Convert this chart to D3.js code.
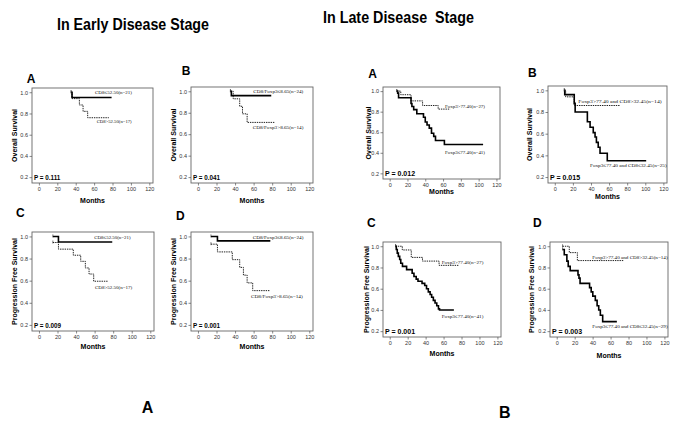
<!DOCTYPE html>
<html>
<head>
<meta charset="utf-8">
<script src="https://cdn.jsdelivr.net/npm/d3@7"></script>
<style>
  body { margin: 0; background: #fff; }
  svg { display: block; }
</style>
</head>
<body>
<svg id="chart" width="685" height="432"></svg>
<script>
// survival curves, [months, proportion surviving]
// early stage: A = OS by CD8, B = OS by CD8/Foxp3, C = PFS by CD8, D = PFS by CD8/Foxp3
const earlyOS_cd8Low = [[35, 1.0], [36, 0.95], [79, 0.95]];
const earlyOS_cd8High = [[35, 1.0], [36, 0.94], [44, 0.88], [48, 0.82], [53, 0.76], [76, 0.76]];
const earlyOS_ratioLow = [[35, 1.0], [36, 0.96], [79, 0.96]];
const earlyOS_ratioHigh = [[35, 1.0], [38, 0.93], [45, 0.86], [48, 0.79], [53, 0.71], [83, 0.71]];
const earlyPFS_cd8Low = [[15, 1.0], [21, 0.95], [79, 0.95]];
const earlyPFS_cd8High = [[15, 0.945], [21, 0.885], [37, 0.83], [45, 0.775], [50, 0.715], [54, 0.66], [59, 0.595], [74, 0.595]];
const earlyPFS_ratioLow = [[14, 1.0], [21, 0.96], [78, 0.96]];
const earlyPFS_ratioHigh = [[14, 0.93], [21, 0.86], [37, 0.79], [45, 0.72], [49, 0.65], [53, 0.58], [59, 0.51], [77, 0.51]];

// late stage: A = OS by Foxp3, B = OS by Foxp3 & CD8, C = PFS by Foxp3, D = PFS by Foxp3 & CD8
const lateOS_foxLow = [[8, 1.0], [9, 0.98], [10, 0.935], [24, 0.88], [25, 0.85], [27, 0.82], [30.5, 0.78], [38, 0.745],
  [40, 0.70], [42, 0.67], [44.5, 0.64], [47, 0.59], [49.5, 0.56], [51.5, 0.52], [61.5, 0.48], [105, 0.48]];
const lateOS_foxHigh = [[8, 1.0], [12.5, 0.965], [24, 0.905], [37, 0.86], [54.5, 0.825], [68, 0.825]];
const lateOS_comboLow = [[10.5, 1.0], [11, 0.96], [21.5, 0.88], [22.5, 0.80], [36, 0.71], [39, 0.66], [42.5, 0.61],
  [44.5, 0.57], [46, 0.52], [48, 0.475], [50, 0.42], [58, 0.35], [101, 0.35]];
const lateOS_comboHigh = [[10.5, 1.0], [12, 0.94], [21.5, 0.86], [72, 0.86]];
const latePFS_foxLow = [[6.5, 1.0], [7.3, 0.97], [8.4, 0.935], [9.6, 0.905], [11.1, 0.875], [12.3, 0.84], [14.2, 0.81],
  [18.8, 0.78], [25, 0.745], [27, 0.715], [29.5, 0.69], [31.5, 0.67], [36, 0.65], [39, 0.63], [41, 0.60], [43, 0.57],
  [45, 0.545], [46.7, 0.52], [48.6, 0.49], [50.5, 0.465], [52.4, 0.44], [54.3, 0.41], [55.5, 0.40], [71.5, 0.40]];
const latePFS_foxHigh = [[6.5, 1.0], [14, 0.965], [24, 0.895], [36.5, 0.86], [55, 0.82], [76.5, 0.82]];
const latePFS_comboLow = [[6.5, 0.97], [8.4, 0.92], [11.3, 0.86], [12.8, 0.81], [15, 0.77], [23.7, 0.73], [24.8, 0.70],
  [26, 0.65], [36.6, 0.61], [38.4, 0.57], [40.2, 0.53], [43, 0.49], [45, 0.44], [46.8, 0.40], [48.6, 0.35], [51.2, 0.29], [67, 0.29]];
const latePFS_comboHigh = [[6.5, 1.0], [14, 0.94], [23, 0.865], [75, 0.865]];

const solidCurves = [earlyOS_cd8Low, earlyOS_ratioLow, earlyPFS_cd8Low, earlyPFS_ratioLow,
  lateOS_foxLow, lateOS_comboLow, latePFS_foxLow, latePFS_comboLow];
const dashedCurves = [earlyOS_cd8High, earlyOS_ratioHigh, earlyPFS_cd8High, earlyPFS_ratioHigh,
  lateOS_foxHigh, lateOS_comboHigh, latePFS_foxHigh, latePFS_comboHigh];

// texts
const panelLetters = ["A", "B", "C", "D", "A", "B", "C", "D"];
const yTitles = ["Overall Survival", "Overall Survival", "Progression Free Survival", "Progression Free Survival",
  "Overall Survival", "Overall Survival", "Progression Free Survival", "Progression Free Survival"];
const pValues = ["P = 0.111", "P = 0.041", "P = 0.009", "P = 0.001", "P = 0.012", "P = 0.015", "P = 0.001", "P = 0.003"];
const curveLabels = [
  ["CD8≤52.50(n=21)", "CD8>52.50(n=17)"],
  ["CD8/Foxp3≤8.65(n=24)", "CD8/Foxp3>8.65(n=14)"],
  ["CD8≤52.50(n=21)", "CD8>52.50(n=17)"],
  ["CD8/Foxp3≤8.65(n=24)", "CD8/Foxp3>8.65(n=14)"],
  ["Foxp3>77.40(n=27)", "Foxp3≤77.40(n=41)"],
  ["Foxp3>77.40 and CD8>32.45(n=14)", "Foxp3≤77.40 and CD8≤32.45(n=25)"],
  ["Foxp3>77.40(n=27)", "Foxp3≤77.40(n=41)"],
  ["Foxp3>77.40 and CD8>32.45(n=14)", "Foxp3≤77.40 and CD8≤32.45(n=29)"]
];
const stageTitles = ["In Early Disease Stage", "In Late Disease  Stage"];
const figureLetters = ["A", "B"];
const xTicks = [0, 20, 40, 60, 80, 100, 120];
const yTicks = [0.2, 0.4, 0.6, 0.8, 1.0];

// layout of the eight small plots (frame box, where "Months" sits, where y title sits)
const frames = [
  { x: 32, y: 88, w: 121, h: 95, monthsY: 202.5, yTitleX: 15, letter: [26.7, 82.7] },
  { x: 191, y: 87, w: 122, h: 96, monthsY: 203, yTitleX: 173.5, letter: [181.7, 75] },
  { x: 32, y: 232, w: 122, h: 99, monthsY: 349, yTitleX: 15, letter: [16, 216.7] },
  { x: 191, y: 232, w: 122, h: 99, monthsY: 349, yTitleX: 174, letter: [176, 220] },
  { x: 383, y: 87, w: 117, h: 92, monthsY: 194, yTitleX: 369, letter: [368.3, 78.3] },
  { x: 548, y: 86, w: 119, h: 97, monthsY: 199, yTitleX: 530, letter: [528, 77.3] },
  { x: 383, y: 242, w: 118, h: 95, monthsY: 355.5, yTitleX: 367, letter: [367, 226.7] },
  { x: 550, y: 242, w: 118, h: 95, monthsY: 358, yTitleX: 532, letter: [533, 226.7] }
];
// curve label boxes: left x, middle y, width
const labelBoxes = [
  [[95, 92, 37], [96.7, 121.7, 35]],
  [[253.3, 91, 50], [252.7, 127.7, 50.7]],
  [[94.3, 237.7, 36.3], [95, 287.3, 37.3]],
  [[252.7, 237.3, 50.7], [251, 296.7, 51.7]],
  [[445, 106, 40], [445, 152.3, 40]],
  [[578.3, 101, 83.3], [590, 165, 76.7]],
  [[441.7, 262.5, 41.7], [441.7, 316.7, 41.7]],
  [[592.3, 257, 75.3], [592.3, 326.7, 75.3]]
];

const svg = d3.select("#chart");
const sans = "'Liberation Sans', Arial, Helvetica, sans-serif";

// big titles
svg.append("text").attr("x", 57).attr("y", 30)
  .attr("font-family", "'Liberation Sans Narrow', 'Arial Narrow', " + sans)
  .attr("font-weight", "bold").attr("font-size", 16.5)
  .attr("textLength", 152).attr("lengthAdjust", "spacingAndGlyphs")
  .text(stageTitles[0]);
svg.append("text").attr("x", 323).attr("y", 22.5)
  .attr("font-family", "'Liberation Sans Narrow', 'Arial Narrow', " + sans)
  .attr("font-weight", "bold").attr("font-size", 16.5)
  .attr("textLength", 151).attr("lengthAdjust", "spacingAndGlyphs")
  .style("white-space", "pre")
  .text(stageTitles[1]);

svg.append("text").attr("x", 141.7).attr("y", 413.3).attr("font-family", sans)
  .attr("font-weight", "bold").attr("font-size", 16).text(figureLetters[0]);
svg.append("text").attr("x", 499).attr("y", 418.3).attr("font-family", sans)
  .attr("font-weight", "bold").attr("font-size", 16).text(figureLetters[1]);

frames.forEach((f, i) => {
  const x = d3.scaleLinear().domain([-7.5, 124]).range([f.x, f.x + f.w]);
  const y = d3.scaleLinear().domain([0.145, 1.04]).range([f.y + f.h, f.y]);
  const g = svg.append("g");

  // panel letter
  g.append("text").attr("x", f.letter[0]).attr("y", f.letter[1])
    .attr("font-family", sans).attr("font-weight", "bold").attr("font-size", 12)
    .text(panelLetters[i]);

  // frame
  g.append("rect").attr("x", f.x).attr("y", f.y).attr("width", f.w).attr("height", f.h)
    .attr("fill", "none").attr("stroke", "#666").attr("stroke-width", 0.9);

  // axes
  const yAx = g.append("g").attr("transform", `translate(${f.x},0)`)
    .call(d3.axisLeft(y).tickValues(yTicks).tickFormat(d3.format(".1f")).tickSize(2.5).tickPadding(1.5));
  const xAx = g.append("g").attr("transform", `translate(0,${f.y + f.h})`)
    .call(d3.axisBottom(x).tickValues(xTicks).tickSize(2.5).tickPadding(1.5));
  [yAx, xAx].forEach(a => {
    a.select(".domain").remove();
    a.attr("font-size", 5.5).attr("font-family", sans);
    a.selectAll("line").attr("stroke", "#555").attr("stroke-width", 0.7);
    a.selectAll("text").attr("fill", "#333");
  });

  // axis titles
  g.append("text").attr("x", f.x + f.w / 2).attr("y", f.monthsY).attr("text-anchor", "middle")
    .attr("font-family", sans).attr("font-weight", "bold").attr("font-size", 7).text("Months");
  g.append("text").attr("transform", `translate(${f.yTitleX},${f.y + f.h / 2}) rotate(-90)`)
    .attr("text-anchor", "middle").attr("dy", "0.35em")
    .attr("font-family", sans).attr("font-weight", "bold").attr("font-size", 7).text(yTitles[i]);

  // p value
  g.append("text").attr("x", f.x + 2).attr("y", f.y + f.h - 3)
    .attr("font-family", sans).attr("font-weight", "bold").attr("font-size", i < 4 ? 6.3 : 7)
    .text(pValues[i]);

  // curves
  const line = d3.line().x(d => x(d[0])).y(d => y(d[1])).curve(d3.curveStepAfter);
  g.append("path").datum(dashedCurves[i]).attr("d", line)
    .attr("fill", "none").attr("stroke", "#222").attr("stroke-width", 1).attr("stroke-dasharray", "1.4,0.9");
  g.append("path").datum(solidCurves[i]).attr("d", line)
    .attr("fill", "none").attr("stroke", "#000").attr("stroke-width", 1.6);

  // start censor marks
  [solidCurves[i], dashedCurves[i]].forEach(c => {
    g.append("line").attr("x1", x(c[0][0])).attr("x2", x(c[0][0]))
      .attr("y1", y(c[0][1]) - 2).attr("y2", y(c[0][1]) + 1)
      .attr("stroke", "#222").attr("stroke-width", 0.6);
  });

  // curve labels
  curveLabels[i].forEach((t, k) => {
    const b = labelBoxes[i][k];
    g.append("text").attr("x", b[0]).attr("y", b[1] + 1.7)
      .attr("font-family", "'Liberation Serif', 'Times New Roman', serif")
      .attr("font-size", 5).attr("fill", "#111")
      .attr("textLength", b[2]).attr("lengthAdjust", "spacingAndGlyphs")
      .text(t);
  });
});
</script>
</body>
</html>
